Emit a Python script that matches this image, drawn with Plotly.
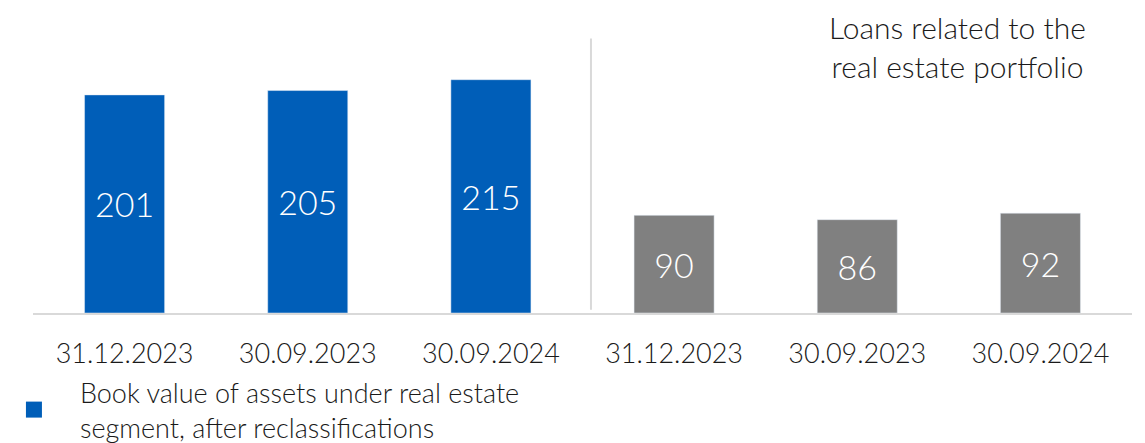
import plotly.graph_objects as go

categories = ["31.12.2023", "30.09.2023", "30.09.2024", "31.12.2023 ", "30.09.2023 ", "30.09.2024 "]
tick_labels = ["31.12.2023", "30.09.2023", "30.09.2024", "31.12.2023", "30.09.2023", "30.09.2024"]
assets_values = [201, 205, 215]
loans_values = [90, 86, 92]
assets_name = "Book value of assets under real estate<br>segment, after reclassifications"
loans_title = "Loans related to the<br>real estate portfolio"

BLUE = "#005EB8"
GRAY = "#808080"
FONT = "Lato"

fig = go.Figure()
fig.add_trace(go.Bar(
    x=categories[:3], y=assets_values, marker_color=BLUE, width=0.437,
    text=[str(v) for v in assets_values], textposition="inside",
    insidetextanchor="middle", textfont=dict(color="white", size=34, family=FONT, weight=300),
    showlegend=False, legendgroup="a", hoverinfo="skip",
))
fig.add_trace(go.Bar(
    x=categories[3:], y=loans_values, marker_color=GRAY, width=0.437,
    text=[str(v) for v in loans_values], textposition="inside",
    insidetextanchor="middle", textfont=dict(color="white", size=34, family=FONT, weight=300),
    showlegend=False, hoverinfo="skip",
))
fig.add_trace(go.Scatter(
    x=[None], y=[None], mode="markers", name=assets_name, legendgroup="a",
    marker=dict(symbol="square", size=16, color=BLUE), showlegend=True,
))

fig.update_layout(
    width=1145, height=443,
    margin=dict(l=25, r=21, t=12, b=138, autoexpand=False),
    plot_bgcolor="white", paper_bgcolor="white",
    font=dict(family=FONT, size=27, color="#1a1a1a", weight=300),
    bargap=0.563,
    xaxis=dict(
        categoryorder="array", categoryarray=categories,
        tickvals=categories, ticktext=tick_labels,
        showline=True, linecolor="#d9d9d9", linewidth=2,
        showgrid=False, ticks="", ticklabelstandoff=16,
        tickfont=dict(size=27, family=FONT, weight=300, color="#1a1a1a"),
        range=[-0.5, 5.5], automargin=False,
    ),
    yaxis=dict(range=[0, 270], visible=False, showgrid=False, zeroline=False),
    legend=dict(
        x=-0.041, xanchor="left", xref="paper",
        y=1 - 360 / 443, yanchor="top", yref="container",
        font=dict(size=27, family=FONT, weight=300, color="#1a1a1a"),
        bgcolor="rgba(0,0,0,0)", itemsizing="trace", itemwidth=82,
    ),
    showlegend=True,
)

fig.add_shape(type="line", xref="paper", yref="y", x0=0.5077, x1=0.5077, y0=3, y1=253,
              line=dict(color="#d9d9d9", width=2))

fig.add_annotation(text=loans_title, xref="paper", yref="paper", x=0.841, y=1.041,
                   xanchor="center", yanchor="top", showarrow=False, borderpad=0,
                   font=dict(size=30, family=FONT, weight=300, color="#1a1a1a"))

fig.write_html("out.html")
